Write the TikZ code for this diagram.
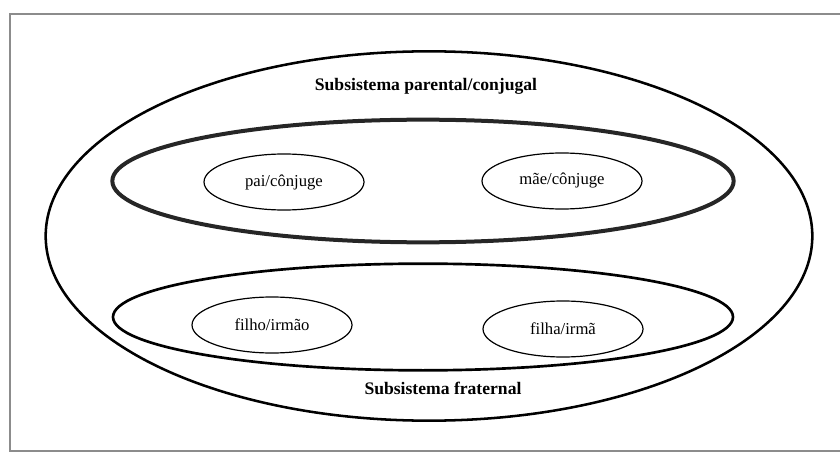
\documentclass[tikz,border=0pt]{standalone}
\usepackage{fontspec}
\setmainfont{Liberation Serif}
\usetikzlibrary{shapes.geometric}
\begin{document}
\begin{tikzpicture}[x=0.75pt,y=-0.75pt,
  big/.style={draw=black,ellipse,inner sep=0pt},
  member/.style={draw=black,ellipse,line width=0.9pt,minimum width=120pt,minimum height=42pt,inner sep=0pt,font=\fontsize{12.5}{14}\selectfont},
  title/.style={font=\bfseries\fontsize{13.2}{15}\selectfont},
  frame/.style={draw=black!45,line width=0.8pt}]
\useasboundingbox (0,0) rectangle (840,453);
\coordinate (ftr) at (840,14);
\coordinate (ftl) at (10,14);
\coordinate (fbl) at (10,451);
\coordinate (fbr) at (840,451);
\draw[frame] (ftr) -- (ftl) -- (fbl) -- (fbr);
\node[big,line width=1.9pt,minimum width=575pt,minimum height=277pt] (outer) at (429,236) {};
\node[big,line width=3pt,draw=black!85,minimum width=466pt,minimum height=92pt] (parental) at (423,181) {};
\node[big,line width=2pt,minimum width=465pt,minimum height=80pt] (fraternal) at (423,317) {};
\node[title] (tp) at (426,86) {Subsistema parental/conjugal};
\node[title] (tf) at (443,388) {Subsistema fraternal};
\node[member] (pai) at (284,182) {pai/cônjuge};
\node[member] (mae) at (562,181) {mãe/cônjuge};
\node[member] (filho) at (272,325) {filho/irmão};
\node[member] (filha) at (563,329) {filha/irmã};
\end{tikzpicture}
\end{document}
